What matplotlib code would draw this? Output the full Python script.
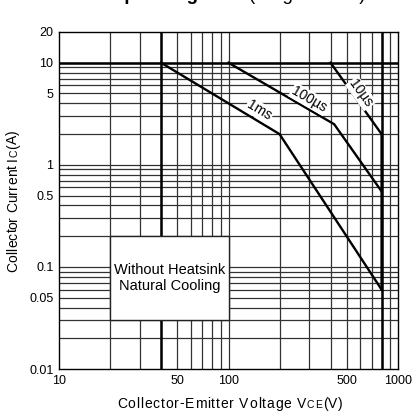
import matplotlib
matplotlib.use("Agg")
import matplotlib.pyplot as plt
import numpy as np

plt.rcParams['font.family'] = ['Liberation Sans', 'DejaVu Sans']

# Data
curve_1ms_v = [40, 200, 800]
curve_1ms_i = [10, 2, 0.06]
curve_100us_v = [100, 420, 800, 800]
curve_100us_i = [10, 2.5, 0.55, 0.55]
curve_10us_v = [400, 800, 800]
curve_10us_i = [10, 2, 0.06]
ic_max = 10
v_limit = 40
vce_max = 800
xticks = [10, 50, 100, 500, 1000]
xticklabels = ['10', '50', '100', '500', '1000']
yticks = [0.01, 0.05, 0.1, 0.5, 1, 5, 10, 20]
yticklabels = ['0.01', '0.05', '0.1', '0.5', '1', '5', '10', '20']
labels = [('1ms', 152, 3.4, -31), ('100µs', 300, 4.4, -30), ('10µs', 605, 5.0, -54)]
box_x = [20, 100]
box_y = [0.03, 0.2]

W, H = 418, 411
fig = plt.figure(figsize=(W / 100, H / 100), dpi=100)
ax = fig.add_axes([59 / W, (H - 369) / H, 339 / W, 337 / H])
ax.set_xscale('log')
ax.set_yscale('log')
ax.set_xlim(10, 1000)
ax.set_ylim(0.01, 20)

# grid
for dec in [10, 100]:
    for m in range(1, 10):
        v = dec * m
        if 10 < v < 1000:
            ax.axvline(v, color='#333333', lw=0.9, zorder=1)
for dec in [0.01, 0.1, 1, 10]:
    for m in range(1, 10):
        v = dec * m
        if 0.01 < v < 20:
            ax.axhline(v, color='#333333', lw=0.9, zorder=1)

# emphasized limit lines
ax.axhline(ic_max, color='black', lw=1.8, zorder=3)
ax.axvline(v_limit, color='black', lw=1.8, zorder=3)
ax.axvline(vce_max, color='black', lw=1.8, zorder=3)

for xs, ys in [(curve_1ms_v, curve_1ms_i), (curve_100us_v, curve_100us_i), (curve_10us_v, curve_10us_i)]:
    ax.plot(xs, ys, color='black', lw=1.7, zorder=4, solid_joinstyle='miter')

for txt, x, y, rot in labels:
    ax.text(x, y, txt, rotation=rot, ha='center', va='center', fontsize=10, zorder=5,
            bbox=dict(facecolor='white', edgecolor='none', pad=0.8), rotation_mode='anchor')

# box
ax.fill([box_x[0], box_x[1], box_x[1], box_x[0]], [box_y[0], box_y[0], box_y[1], box_y[1]],
        facecolor='white', edgecolor='#222222', lw=1.0, zorder=6)
ax.text(np.sqrt(box_x[0] * box_x[1]), np.sqrt(box_y[0] * box_y[1]), 'Without Heatsink\nNatural Cooling',
        ha='center', va='center', fontsize=10.5, zorder=7, linespacing=1.15)

ax.set_xticks(xticks)
ax.set_xticklabels(xticklabels)
ax.set_yticks(yticks)
ax.set_yticklabels(yticklabels)
ax.minorticks_off()
ax.tick_params(length=0, labelsize=9, pad=4)
for s in ax.spines.values():
    s.set_linewidth(1.0)
    s.set_zorder(8)

fig.canvas.draw()


def place(pieces, cx, cy, rot=0, track=0.0):
    """Place mixed-size text on a common baseline, centered at (cx, cy) px from top-left,
    with extra letter spacing `track` px between characters."""
    objs = []
    for s, fs in pieces:
        for ch in s:
            t = fig.text(0, 0, ch, fontsize=fs, rotation=rot, rotation_mode='anchor',
                         ha='left', va='baseline')
            objs.append(t)
    fig.canvas.draw()
    r = fig.canvas.get_renderer()
    adv = []
    for t in objs:
        ch = t.get_text()
        fp = t.get_fontproperties()
        if ch == ' ':
            w = 0.278 * fp.get_size_in_points() * fig.dpi / 72
        else:
            w, _, _ = r.get_text_width_height_descent(ch, fp, ismath=False)
        adv.append(w + track)
    total = sum(adv) - track
    pos = -total / 2
    for t, a in zip(objs, adv):
        if rot == 90:
            t.set_position((cx / W, ((H - cy) + pos) / H))
        else:
            t.set_position(((cx + pos) / W, (H - cy) / H))
        pos += a
    return objs


place([('Collector-Emitter Voltage V', 10), ('CE', 7.5), ('(V)', 10)], 230, 407.5, track=0.8)
place([('Collector Current I', 10), ('C', 7.5), ('(A)', 10)], 17, 201, rot=90, track=0.1)

# title (cut off at top)
ty = 1 + 0.3 / H
t1 = fig.text(65 / W, ty, 'Safe Operating Area', fontsize=13.5, fontweight='bold', va='baseline', ha='left')
fig.canvas.draw()
bb = t1.get_window_extent()
fig.text(bb.x1 / W + 5 / W, ty, '(Single Pulse)', fontsize=13.5, va='baseline', ha='left')

fig.savefig('out.png', dpi=100)
